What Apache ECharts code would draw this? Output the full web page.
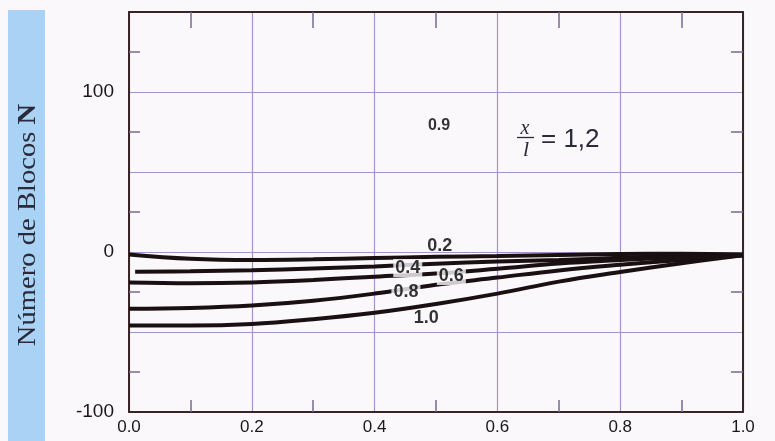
<!DOCTYPE html>
<html>
<head>
<meta charset="utf-8">
<script src="https://cdn.jsdelivr.net/npm/echarts@6/dist/echarts.min.js"></script>
<style>
  html, body { margin: 0; padding: 0; background: #fbf8fb; }
  #chart { width: 775px; height: 441px; }
</style>
</head>
<body>
<div id="chart"></div>
<script>
// valores
const xs = [0, 0.1, 0.2, 0.3, 0.4, 0.5, 0.6, 0.7, 0.8, 0.9, 1.0];
const xs04 = [0.01, 0.1, 0.2, 0.3, 0.4, 0.5, 0.6, 0.7, 0.8, 0.9, 1.0];
const n02 = [-1.5, -4.2, -5, -4.6, -3.8, -3, -2.5, -1.8, -1.3, -1.1, -1.5];
const n04 = [-12.3, -12, -11.4, -10.3, -9, -7.3, -6, -5, -3.6, -2.6, -2];
const n06 = [-19, -19.5, -19, -17.5, -15.4, -13.5, -10.5, -7.2, -5, -3.2, -2];
const n08 = [-35.5, -35, -33.5, -30.5, -26, -20.5, -16, -11.5, -8, -5, -2];
const n10 = [-46, -46, -45, -42, -38, -32.5, -26, -18.5, -12.5, -7, -2];

// rótulos das curvas (posição em coordenadas do gráfico)
const curveLabels = ['0.2', '0.4', '0.6', '0.8', '1.0'];
const curveLabelX = [0.506, 0.454, 0.525, 0.451, 0.484];
const curveLabelY = [3.8, -10, -15, -25, -41];
const inlineLabels = ['0.4', '0.6', '0.8'];

const chart = echarts.init(document.getElementById('chart'));

const frameColor = '#3a2426';
const gridColor = '#a294c4';
const tickColor = '#7a6890';
const textColor = '#1c1718';

function lineSeries(name, x, y) {
  return {
    name: name,
    type: 'line',
    smooth: 0.4,
    symbol: 'none',
    lineStyle: { color: '#1a1011', width: 4 },
    data: x.map((v, i) => [v, y[i]]),
    z: 3
  };
}

// eixo sem rótulos para fechar a moldura (topo / direita)
function frameAxis(position, min, max, interval, tickLen) {
  return {
    type: 'value', position: position,
    min: min, max: max, interval: interval,
    axisLine: { show: true, onZero: false, lineStyle: { color: frameColor, width: 2 } },
    axisTick: { show: false, inside: true },
    minorTick: { show: true, splitNumber: 2, length: tickLen, lineStyle: { color: tickColor, width: 1.5 } },
    splitLine: { show: false },
    axisLabel: { show: false }
  };
}

const labelData = curveLabels.map((t, i) => ({
  name: t,
  value: [curveLabelX[i], curveLabelY[i]],
  label: inlineLabels.includes(t)
    ? { backgroundColor: '#fbf8fb', padding: [0, 2] }
    : {}
}));
labelData.push({
  name: '0.9',
  value: [0.505, 79],
  label: { fontSize: 16 }
});

const option = {
  backgroundColor: '#fbf8fb',
  animation: false,
  grid: { left: 129, right: 32, top: 12, bottom: 29 },
  xAxis: [
    {
      type: 'value',
      min: 0, max: 1, interval: 0.2,
      axisLine: { show: true, onZero: false, lineStyle: { color: frameColor, width: 2 } },
      axisTick: { show: false, inside: true },
      minorTick: { show: true, splitNumber: 2, length: 12, lineStyle: { color: tickColor, width: 1.5 } },
      splitLine: { show: true, lineStyle: { color: gridColor, width: 1.2 } },
      axisLabel: {
        fontFamily: 'Liberation Sans', fontSize: 17, color: textColor, margin: 7,
        formatter: v => v.toFixed(1)
      }
    },
    frameAxis('top', 0, 1, 0.2, 16)
  ],
  yAxis: [
    {
      type: 'value',
      min: -100, max: 150, interval: 50,
      axisLine: { show: true, onZero: false, lineStyle: { color: frameColor, width: 2 } },
      axisTick: { show: false, inside: true },
      minorTick: { show: true, splitNumber: 2, length: 11, lineStyle: { color: tickColor, width: 1.5 } },
      splitLine: { show: true, lineStyle: { color: gridColor, width: 1.2 } },
      axisLabel: {
        fontFamily: 'Liberation Sans', fontSize: 19, color: textColor, margin: 15,
        formatter: v => (v % 100 === 0 ? String(v) : '')
      }
    },
    frameAxis('right', -100, 150, 50, 12)
  ],
  series: [
    lineSeries('0.2', xs, n02),
    lineSeries('0.4', xs04, n04),
    lineSeries('0.6', xs, n06),
    lineSeries('0.8', xs, n08),
    lineSeries('1.0', xs, n10),
    {
      type: 'scatter',
      symbolSize: 0,
      z: 5,
      itemStyle: { color: textColor },
      label: {
        show: true,
        position: 'inside',
        formatter: p => p.name,
        fontFamily: 'Liberation Sans',
        fontWeight: 'bold',
        fontSize: 18,
        color: '#000',
        textBorderWidth: 0,
        textBorderColor: 'transparent'
      },
      data: labelData
    }
  ],
  graphic: [
    {
      type: 'rect',
      shape: { x: 8, y: 10, width: 37, height: 431 },
      style: { fill: '#a9d2f4' },
      z: -1
    },
    {
      type: 'text',
      x: 28, y: 225,
      rotation: Math.PI / 2,
      scaleX: 1.1,
      style: {
        text: '{a|Número de Blocos }{b|N}',
        align: 'center',
        verticalAlign: 'middle',
        rich: {
          a: { fontFamily: 'Liberation Serif', fontSize: 26, fill: '#2a2a3a' },
          b: { fontFamily: 'Liberation Serif', fontSize: 26, fontWeight: 'bold', fill: '#2a2a3a' }
        }
      }
    },
    {
      type: 'text',
      x: 525, y: 129,
      style: {
        text: 'x', fontFamily: 'Liberation Serif', fontStyle: 'italic', fontSize: 20,
        fill: '#2a2a3a', align: 'center', verticalAlign: 'middle'
      }
    },
    {
      type: 'line',
      shape: { x1: 517, y1: 137.5, x2: 534, y2: 137.5 },
      style: { stroke: '#2a2a3a', lineWidth: 1.3 }
    },
    {
      type: 'text',
      x: 526, y: 150,
      style: {
        text: 'l', fontFamily: 'Liberation Serif', fontStyle: 'italic', fontSize: 22,
        fill: '#2a2a3a', align: 'center', verticalAlign: 'middle'
      }
    },
    {
      type: 'text',
      x: 541, y: 140,
      style: {
        text: '= 1,2', fontFamily: 'Liberation Sans', fontSize: 26,
        fill: '#2a2a3a', align: 'left', verticalAlign: 'middle'
      }
    }
  ]
};

chart.setOption(option);
</script>
</body>
</html>
